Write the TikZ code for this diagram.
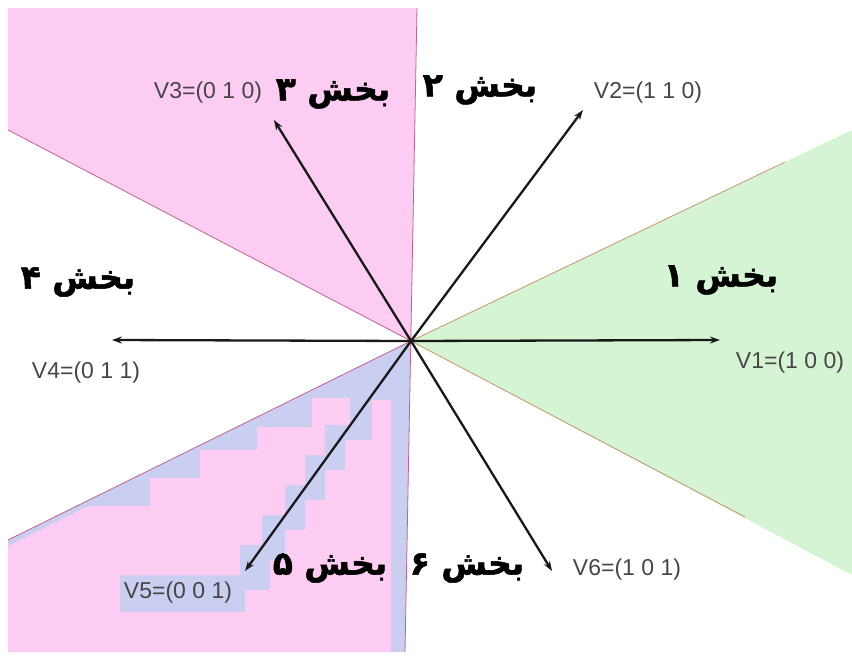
\documentclass[tikz,border=0pt]{standalone}
\usepackage{fontspec}
\setmainfont{Liberation Sans}
\newfontfamily\farsi[Script=Arabic, BoldFont={DejaVu Sans Bold}, BoldFeatures={FakeBold=1.6}]{DejaVu Sans}
\TeXXeTstate=1
\definecolor{secpink}{RGB}{252,204,242}
\definecolor{secgreen}{RGB}{212,244,212}
\definecolor{seclav}{RGB}{202,206,240}
\definecolor{edgepink}{RGB}{190,100,140}
\definecolor{edgetan}{RGB}{200,150,110}
\definecolor{vecgray}{RGB}{70,70,70}
\usetikzlibrary{arrows.meta,positioning}

\begin{document}
\begin{tikzpicture}[x=1pt,y=-1pt,
    vec/.style={-{Stealth[length=10pt,width=7pt]}, line width=2.3pt, black!90},
    vlbl/.style={font=\fontsize{23}{26}\selectfont, text=vecgray, inner sep=0pt},
    sec/.style={font=\farsi\bfseries\fontsize{33}{36}\selectfont, inner sep=0pt},
    edge/.style={line width=0.8pt}
  ]
  \useasboundingbox (0,0) rectangle (852,659);

  % sector fills
  \fill[secpink] (8,8) -- (417,8) -- (411,341) -- (8,130) -- cycle;
  \fill[seclav]  (411,341) -- (8,540) -- (8,652) -- (405,652) -- cycle;
  \fill[secpink] (8,546) -- (88,506) -- (150,506) -- (150,478) -- (200,478) -- (200,450)
    -- (257,450) -- (257,427) -- (312,427) -- (312,398) -- (350,398) -- (350,425)
    -- (325,425) -- (325,455) -- (305,455) -- (305,485) -- (285,485) -- (285,515)
    -- (262,515) -- (262,545) -- (240,545) -- (240,575) -- (120,575) -- (120,612)
    -- (245,612) -- (245,590) -- (270,590) -- (270,560) -- (285,560) -- (285,530)
    -- (305,530) -- (305,500) -- (325,500) -- (325,470) -- (345,470) -- (345,440)
    -- (372,440) -- (372,400) -- (391,400) -- (391,652) -- (8,652) -- cycle;
  \fill[secgreen] (411,341) -- (852,130) -- (852,575) -- cycle;

  % centre and vector tips
  \coordinate (O) at (411,341);
  \coordinate (t1) at (720,340);
  \coordinate (t2) at (583,110);
  \coordinate (t3) at (274,120);
  \coordinate (t4) at (112,340);
  \coordinate (t5) at (245,571);
  \coordinate (t6) at (552,571);

  % sector borders
  \draw[edge, edgepink] (417,8) -- (405,652);
  \draw[edge, edgepink] (O) -- (8,130);
  \draw[edge, edgepink] (O) -- (8,540);
  \draw[edge, edgetan] (O) -- (785,162);
  \draw[edge, edgetan] (O) -- (745,517);

  % switching vectors
  \foreach \t in {t1,t2,t3,t4,t5,t6}
    \draw[vec] (O) -- (\t);

  % vector labels
  \node[vlbl] (v1) at (790,363) {V1=(1 0 0)};
  \node[vlbl] (v2) at (648,93)  {V2=(1 1 0)};
  \node[vlbl] (v3) at (208,93)  {V3=(0 1 0)};
  \node[vlbl] (v4) at (86,373)  {V4=(0 1 1)};
  \node[vlbl] (v5) at (178,593) {V5=(0 0 1)};
  \node[vlbl] (v6) at (627,570) {V6=(1 0 1)};

  % sector names
  \node[sec] (s1) at (721,280) {\beginR بخش ۱\endR};
  \node[sec] (s2) at (480,90)  {\beginR بخش ۲\endR};
  \node[sec] (s3) at (333,94)  {\beginR بخش ۳\endR};
  \node[sec] (s4) at (78,282)  {\beginR بخش ۴\endR};
  \node[sec] (s5) at (330,568) {\beginR بخش ۵\endR};
  \node[sec] (s6) at (467,568) {\beginR بخش ۶\endR};
\end{tikzpicture}
\end{document}
